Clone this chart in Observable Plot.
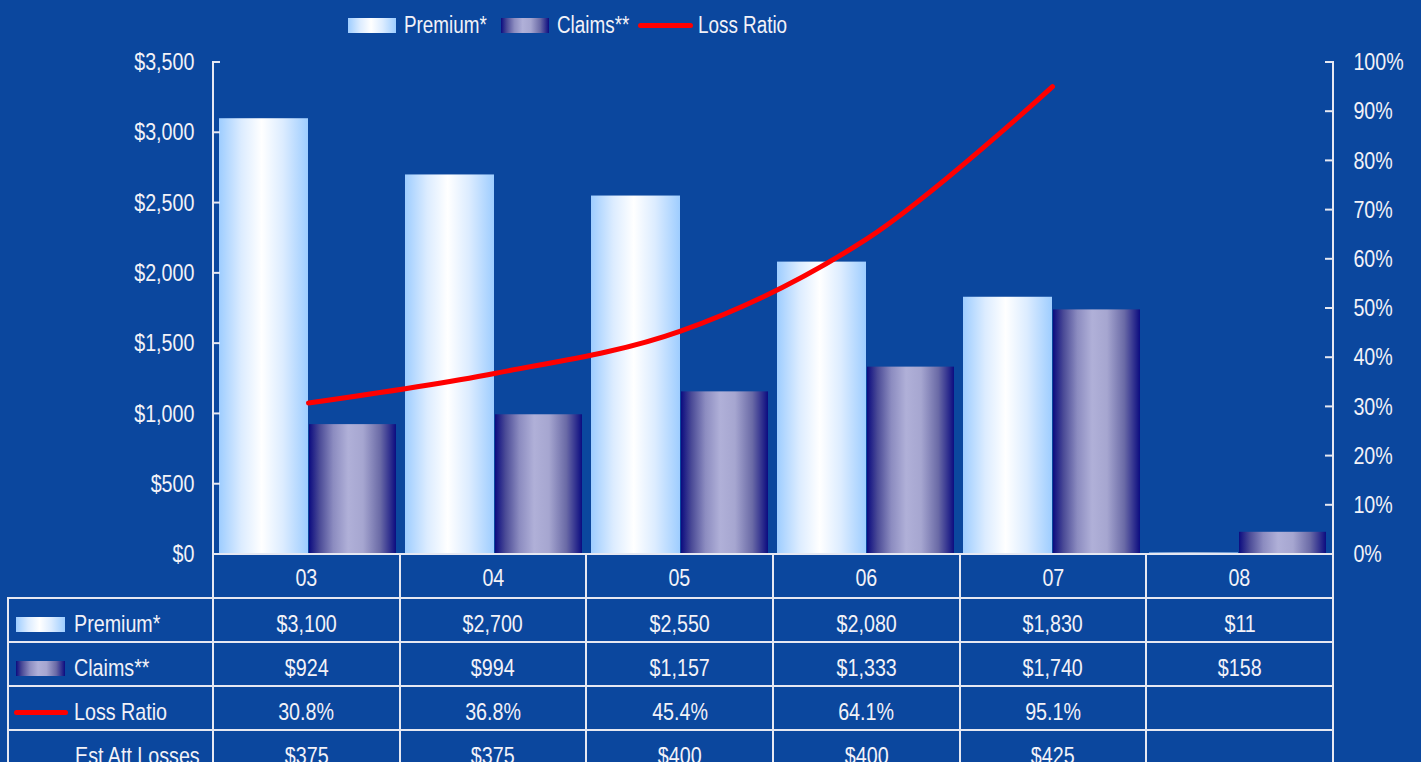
<!DOCTYPE html>
<html><head><meta charset="utf-8">
<script src="https://cdn.jsdelivr.net/npm/d3@7"></script>
<script src="https://cdn.jsdelivr.net/npm/@observablehq/plot@0.6"></script>
<style>
html,body{margin:0;padding:0;background:#0b479e;width:1421px;height:762px;overflow:hidden;font-family:"Liberation Sans",Arial,sans-serif;color:#f2f2f8;}
#legend{position:absolute;top:11px;left:348px;display:flex;align-items:center;font-size:23px;height:28px;white-space:nowrap;}
.item{display:flex;align-items:center;}
.sw{display:inline-block;width:48px;height:15px;margin-right:8px;flex:none;}
.prem{background:linear-gradient(to right,#9ecdff 0%,#dcecff 25%,#ffffff 48%,#dcecff 72%,#9ecdff 100%);}
.clm{background:linear-gradient(to right,#0c0c80 0%,#4a4a96 12%,#8c8cc0 28%,#b0b0d8 45%,#a6a6d0 62%,#6a6aa6 82%,#0c0c80 100%);}
.ln{display:inline-block;width:55px;height:5px;background:#ff0000;border-radius:2.5px;margin-right:5px;flex:none;}
.nar{display:inline-block;transform:scaleX(0.82);transform-origin:0 50%;}
.narc{display:inline-block;transform:scaleX(0.82);transform-origin:50% 50%;}
#chart{position:absolute;top:40px;left:0;}
#tbl{position:absolute;top:553px;left:7px;border-collapse:collapse;table-layout:fixed;font-size:24px;width:1327px;}
#tbl td{border:2px solid #e6e8f2;height:34px;padding:8px 0 0 0;text-align:center;vertical-align:middle;white-space:nowrap;overflow:hidden;line-height:24px;}
#tbl tr.hdr td{height:38px;padding-top:4px;}
#tbl td.lab{text-align:left;}
#tbl td.blank{border-left:none;border-top:none;}
#tbl td.lab .wrap{display:flex;align-items:center;}
</style>
</head><body>
<svg width="0" height="0" style="position:absolute">
  <defs>
    <linearGradient id="gPrem" x1="0" x2="1" y1="0" y2="0">
      <stop offset="0" stop-color="#9ecdff"/>
      <stop offset="0.25" stop-color="#dcecff"/>
      <stop offset="0.48" stop-color="#ffffff"/>
      <stop offset="0.72" stop-color="#dcecff"/>
      <stop offset="1" stop-color="#9ecdff"/>
    </linearGradient>
    <linearGradient id="gClm" x1="0" x2="1" y1="0" y2="0">
      <stop offset="0" stop-color="#0c0c80"/>
      <stop offset="0.12" stop-color="#4a4a96"/>
      <stop offset="0.28" stop-color="#8c8cc0"/>
      <stop offset="0.45" stop-color="#b0b0d8"/>
      <stop offset="0.62" stop-color="#a6a6d0"/>
      <stop offset="0.82" stop-color="#6a6aa6"/>
      <stop offset="1" stop-color="#0c0c80"/>
    </linearGradient>
  </defs>
</svg>
<div id="legend">
  <div class="item" style="margin-right:14px"><span class="sw prem"></span><span class="nar">Premium*</span></div>
  <div class="item" style="margin-right:9px"><span class="sw clm"></span><span class="nar">Claims**</span></div>
  <div class="item"><span class="ln"></span><span class="nar">Loss Ratio</span></div>
</div>
<div id="chart"></div>
<table id="tbl"></table>
<script>
const cats = ["03","04","05","06","07","08"];
const premium = [3100, 2700, 2550, 2080, 1830, 11];
const claims = [924, 994, 1157, 1333, 1740, 158];
const lossRatio = [30.8, 36.8, 45.4, 64.1, 95.1, null];
const estAttLosses = [375, 375, 400, 400, 425, null];
const leftTicks = [0, 500, 1000, 1500, 2000, 2500, 3000, 3500];
const rightTicksPct = [0, 10, 20, 30, 40, 50, 60, 70, 80, 90, 100];

const FONT = '"Liberation Sans",Arial,sans-serif';
const LINE = "#e6e8f2";
const NARROW = 0.82;
const money = v => "$" + d3.format(",")(v);

const rows = cats.map((c, i) => ({cat: c, premium: premium[i], claims: claims[i], ratio: lossRatio[i]}));
const pctToY = p => p * 35; // 100% maps to 3500 on the shared y scale

function axisLines(index, scales, values, dimensions) {
  const {width, height, marginLeft, marginRight, marginTop} = dimensions;
  const xl = marginLeft, xr = width - marginRight;
  const g = d3.create("svg:g").attr("stroke", LINE).attr("stroke-width", 2).attr("fill", "none");
  g.append("line").attr("x1", xl).attr("x2", xl).attr("y1", marginTop - 1).attr("y2", height);
  g.append("line").attr("x1", xr).attr("x2", xr).attr("y1", marginTop - 1).attr("y2", height);
  for (const t of leftTicks) {
    const y = scales.y(t);
    g.append("line").attr("x1", xl).attr("x2", xl + 7).attr("y1", y).attr("y2", y);
  }
  for (const p of rightTicksPct) {
    const y = scales.y(pctToY(p));
    g.append("line").attr("x1", xr - 8).attr("x2", xr).attr("y1", y).attr("y2", y);
  }
  return g.node();
}

const ML = 213, MR = 88, W = 1421;
const chart = Plot.plot({
  width: W, height: 516,
  marginLeft: ML, marginRight: MR, marginTop: 22, marginBottom: 2,
  style: {background: "transparent", color: "#f2f2f8", fontFamily: FONT, fontSize: "24px", overflow: "visible"},
  x: {type: "band", domain: cats, padding: 0, axis: null},
  y: {domain: [0, 3500], axis: null},
  marks: [
    Plot.barY(rows, {x: "cat", y: "premium", fill: "url(#gPrem)", insetLeft: 4, insetRight: 93}),
    Plot.barY(rows, {x: "cat", y: "claims", fill: "url(#gClm)", insetLeft: 94, insetRight: 5}),
    Plot.line(rows.filter(d => d.ratio != null), {x: "cat", y: d => pctToY(d.ratio), stroke: "#ff0000", strokeWidth: 5, curve: "catmull-rom"}),
    Plot.axisY(leftTicks, {anchor: "left", tickSize: 0, tickPadding: 19, tickFormat: money, fontSize: 24}),
    Plot.axisY(rightTicksPct.map(pctToY), {anchor: "right", tickSize: 0, tickPadding: 20, tickFormat: v => Math.round(v / 35) + "%", fontSize: 24}),
    axisLines
  ]
});
document.getElementById("chart").appendChild(chart);

// condense the axis labels horizontally (narrow face of the original)
d3.select(chart).selectAll("g").each(function () {
  const ta = this.getAttribute("text-anchor");
  if (!this.querySelector(":scope > text") || !ta) return;
  const ax = ta === "end" ? ML - 19 : W - MR + 20;
  const prev = this.getAttribute("transform") || "";
  this.setAttribute("transform", `translate(${ax},0) scale(${NARROW},1) translate(${-ax},0) ${prev}`);
});

// data table
const tbl = d3.select("#tbl");
const cg = tbl.append("colgroup");
cg.append("col").style("width", "205px");
cats.forEach(() => cg.append("col").style("width", "186.67px"));

const hdr = tbl.append("tr").attr("class", "hdr");
hdr.append("td").attr("class", "lab blank");
cats.forEach(c => hdr.append("td").append("span").attr("class", "narc").text(c));

const tableRows = [
  {label: "Premium*", kind: "prem", vals: premium.map(v => v == null ? "" : money(v))},
  {label: "Claims**", kind: "clm", vals: claims.map(v => v == null ? "" : money(v))},
  {label: "Loss Ratio", kind: "ln", vals: lossRatio.map(v => v == null ? "" : v.toFixed(1) + "%")},
  {label: "Est Att Losses", kind: null, vals: estAttLosses.map(v => v == null ? "" : money(v))}
];
for (const r of tableRows) {
  const tr = tbl.append("tr");
  const td = tr.append("td").attr("class", "lab");
  const w = td.append("div").attr("class", "wrap");
  if (r.kind === "prem" || r.kind === "clm") {
    w.style("padding-left", "7px");
    w.append("span").attr("class", "sw " + r.kind).style("width", "49px").style("margin-right", "9px");
  } else if (r.kind === "ln") {
    w.style("padding-left", "5px");
    w.append("span").attr("class", "ln").style("width", "54px").style("margin-right", "6px");
  } else {
    w.style("padding-left", "66px");
  }
  w.append("span").attr("class", "nar").text(r.label);
  r.vals.forEach(v => tr.append("td").append("span").attr("class", "narc").text(v));
}

// compensate layout width of horizontally condensed legend labels
document.querySelectorAll("#legend .nar").forEach(el => {
  const wdt = el.getBoundingClientRect().width / NARROW;
  el.style.marginRight = (-(1 - NARROW) * wdt) + "px";
});
</script>
</body></html>
